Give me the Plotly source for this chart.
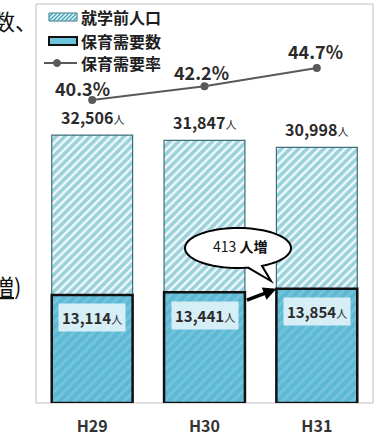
import numpy as np
import plotly.graph_objects as go

# ---- data ----
years = ["H29", "H30", "H31"]
preschool_pop = [32506, 31847, 30998]      # 就学前人口
childcare_demand = [13114, 13441, 13854]   # 保育需要数
demand_rate = [40.3, 42.2, 44.7]           # 保育需要率 (%)
increase_text = "413"

# ---- page geometry ----
W, H = 382, 442
L, R, T, B = 36, 9, 4, 39
PW, PH = W - L - R, H - T - B
BAR_W = 0.72
FONT = "Noto Sans CJK JP"


def px(x):
    return (x - L) / PW


def py(y):
    return (H - B - y) / PH


fig = go.Figure()

fig.add_trace(go.Bar(
    x=years, y=preschool_pop, width=BAR_W, name="就学前人口",
    marker=dict(
        color="#f2fafb",
        line=dict(color="#3f6f7a", width=1.2),
        pattern=dict(shape="/", fgcolor="#44a7bc", bgcolor="#f2fafb",
                     size=6, solidity=0.6),
    ),
    hoverinfo="skip",
))
fig.add_trace(go.Bar(
    x=years, y=childcare_demand, width=BAR_W, name="保育需要数",
    marker=dict(
        color="#5cb9d4",
        line=dict(color="#111111", width=2.5),
        pattern=dict(shape="/", fgcolor="#8fd0e4", bgcolor="#5cb9d4",
                     size=7, solidity=0.4),
    ),
    hoverinfo="skip",
))
fig.add_trace(go.Scatter(
    x=years, y=demand_rate, yaxis="y2", mode="lines+markers", name="保育需要率",
    line=dict(color="#595959", width=2),
    marker=dict(color="#595959", size=8),
    hoverinfo="skip",
))

annotations = []
shapes = []

# totals above the hatched bars
for cat, v in zip(years, preschool_pop):
    annotations.append(dict(
        x=cat, y=v, xref="x", yref="y", yanchor="bottom", yshift=4,
        showarrow=False,
        text=f"<b>{v:,}</b><span style='font-size:11px'>人</span>",
        font=dict(family=FONT, size=16, color="#2b2b2b"),
    ))

# childcare demand labels in light boxes
for cat, v in zip(years, childcare_demand):
    annotations.append(dict(
        x=cat, y=v, xref="x", yref="y", yanchor="middle", yshift=-23,
        showarrow=False, bgcolor="#d6eef6", borderpad=3,
        text=f"<b>{v:,}</b><span style='font-size:11px'>人</span>",
        font=dict(family=FONT, size=15, color="#2b2b2b"),
    ))

# rate labels
rate_xshift = [-10, -3, -1]
rate_yshift = [12, 14, 17]
for cat, v, dx, dy in zip(years, demand_rate, rate_xshift, rate_yshift):
    annotations.append(dict(
        x=cat, y=v, xref="x", yref="y2", yanchor="middle",
        xshift=dx, yshift=dy, showarrow=False,
        text=f"<b>{v:.1f}%</b>",
        font=dict(family=FONT, size=18, color="#2b2b2b"),
    ))

# arrow pointing at the H31 demand bar
annotations.append(dict(
    x=2 - BAR_W / 2, y=childcare_demand[2], xref="x", yref="y",
    ax=-31, ay=12, axref="pixel", ayref="pixel",
    showarrow=True, arrowhead=2, arrowsize=0.75, arrowwidth=3.5,
    arrowcolor="#000000", standoff=0, text="",
))

# speech bubble
cx, cy, rx, ry = 238, 248, 53, 20
t_left = np.arccos((248 - cx) / rx)
t_right = np.arccos((262 - cx) / rx)
ts = np.linspace(t_left, t_right + 2 * np.pi, 90)
pts = [(cx + rx * np.cos(t), cy + ry * np.sin(t)) for t in ts]
pts.append((271, 281))
path = "M " + " L ".join(f"{px(a):.5f},{py(b):.5f}" for a, b in pts) + " Z"
shapes.append(dict(type="path", xref="paper", yref="paper", path=path,
                   fillcolor="white", line=dict(color="#000000", width=2),
                   layer="above"))
annotations.append(dict(
    x=px(240), y=py(246), xref="paper", yref="paper", showarrow=False,
    text=f"{increase_text} <b>人増</b>",
    font=dict(family=FONT, size=14, color="#111111"),
))

# plot frame
shapes.append(dict(type="rect", xref="paper", yref="paper", x0=0, x1=1, y0=0, y1=1,
                   line=dict(color="#bdbdbd", width=1), layer="below"))

# legend, drawn by hand
lx0, lx1 = 49, 77
hy0, hy1 = 13, 21
shapes.append(dict(type="rect", xref="paper", yref="paper",
                   x0=px(lx0), x1=px(lx1), y0=py(hy1), y1=py(hy0),
                   fillcolor="#f2fafb", line=dict(color="#3f6f7a", width=1)))
hh = hy1 - hy0
for s in np.arange(lx0 - hh, lx1, 4.0):
    u0 = max(0.0, (lx0 - s) / hh)
    u1 = min(1.0, (lx1 - s) / hh)
    if u1 <= u0:
        continue
    shapes.append(dict(type="line", xref="paper", yref="paper",
                       x0=px(s + hh * u0), y0=py(hy1 - hh * u0),
                       x1=px(s + hh * u1), y1=py(hy1 - hh * u1),
                       line=dict(color="#44a7bc", width=1.6)))
shapes.append(dict(type="rect", xref="paper", yref="paper",
                   x0=px(lx0), x1=px(lx1), y0=py(45), y1=py(37),
                   fillcolor="#6cc3dc", line=dict(color="#111111", width=2)))
shapes.append(dict(type="line", xref="paper", yref="paper",
                   x0=px(44), x1=px(77), y0=py(63), y1=py(63),
                   line=dict(color="#595959", width=2)))
shapes.append(dict(type="circle", xref="paper", yref="paper",
                   x0=px(53.5), x1=px(60.5), y0=py(66.5), y1=py(59.5),
                   fillcolor="#595959", line=dict(color="#595959", width=1)))
for label, yc in zip(["就学前人口", "保育需要数", "保育需要率"], [17, 41, 63]):
    annotations.append(dict(
        x=px(79), y=py(yc), xref="paper", yref="paper", xanchor="left",
        yanchor="middle", showarrow=False, text=f"<b>{label}</b>",
        font=dict(family=FONT, size=16, color="#1e1e1e"),
    ))

# surrounding body text cut off at the left edge
annotations.append(dict(
    x=px(-9), y=py(20), xref="paper", yref="paper", xanchor="left",
    yanchor="middle", showarrow=False, text="数、",
    font=dict(family=FONT, size=22, color="#111111"),
))
annotations.append(dict(
    x=px(-10), y=py(285), xref="paper", yref="paper", xanchor="left",
    yanchor="middle", showarrow=False, text="<u>増</u>)",
    font=dict(family=FONT, size=22, color="#111111"),
))

fig.update_layout(
    width=W, height=H,
    margin=dict(l=L, r=R, t=T, b=B, pad=0),
    paper_bgcolor="white", plot_bgcolor="white",
    barmode="overlay", showlegend=False,
    font=dict(family=FONT),
    xaxis=dict(type="category", range=[-0.5, 2.5], showgrid=False,
               zeroline=False, showline=False, ticks="",
               ticklabelstandoff=12,
               tickfont=dict(family=FONT, size=16, color="#333333", weight="bold")),
    yaxis=dict(range=[0, 48400], visible=False, showgrid=False, zeroline=False),
    yaxis2=dict(range=[-1.36, 53.5], overlaying="y", visible=False,
                showgrid=False, zeroline=False),
    annotations=annotations,
    shapes=shapes,
)

fig.write_html("out.html")
